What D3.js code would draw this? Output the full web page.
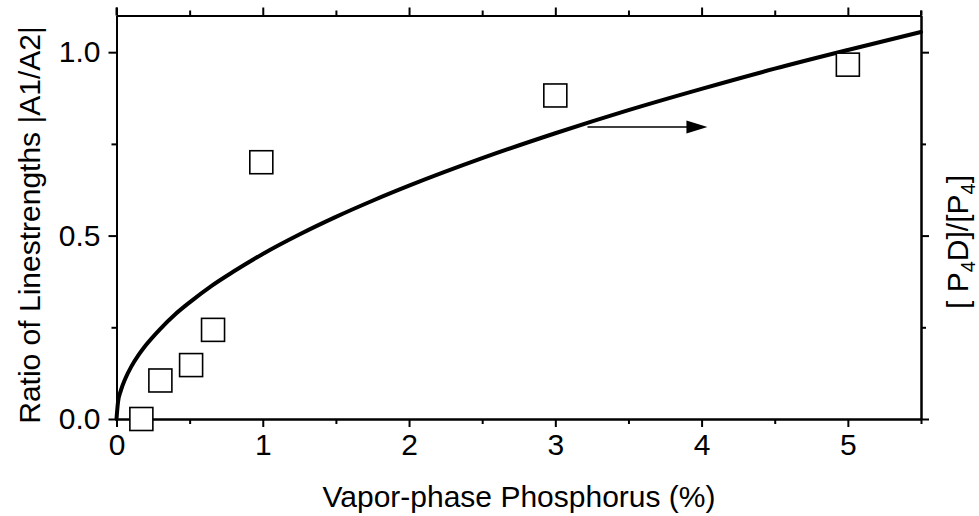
<!DOCTYPE html>
<html>
<head>
<meta charset="utf-8">
<script src="https://cdn.jsdelivr.net/npm/d3@7/dist/d3.min.js"></script>
<style>
  html, body { margin: 0; padding: 0; background: #fff; }
  svg { display: block; }
  text { font-family: "Liberation Sans", Arial, sans-serif; fill: #000; }
</style>
</head>
<body>
<svg id="chart" width="979" height="516"></svg>
<script>
// ---- data ----
const curveX = [0, 0.01, 0.03, 0.06, 0.1, 0.15, 0.2, 0.3, 0.4, 0.5, 0.65, 0.8, 1.0, 1.25, 1.5, 1.75, 2.0, 2.5, 3.0, 3.5, 4.0, 4.5, 5.0, 5.5];
const curveY = [0, 0.045, 0.078, 0.11, 0.142, 0.174, 0.201, 0.246, 0.285, 0.318, 0.363, 0.402, 0.45, 0.503, 0.551, 0.595, 0.636, 0.711, 0.779, 0.842, 0.9, 0.955, 1.006, 1.055];
const pointsX = [0.17, 0.30, 0.51, 0.66, 0.99, 3.0, 5.0];
const pointsY = [0.0, 0.105, 0.147, 0.243, 0.70, 0.882, 0.966];
const arrowX = [3.22, 4.04];
const arrowY = 0.796;
const xMajorTicks = [0, 1, 2, 3, 4, 5];
const xMinorTicks = [0.5, 1.5, 2.5, 3.5, 4.5, 5.5];
const yMajorTicks = [0.0, 0.5, 1.0];
const yMinorTicks = [0.25, 0.75];
const xTickLabels = ["0", "1", "2", "3", "4", "5"];
const yTickLabels = ["0.0", "0.5", "1.0"];
const xTitle = "Vapor-phase Phosphorus (%)";
const yTitle = "Ratio of Linestrengths |A1/A2|";

// ---- layout ----
const L = 116.5, R = 921, T = 15.5, B = 419;
const FS = 30;
const svg = d3.select("#chart");
const x = d3.scaleLinear().domain([0, 5.5]).range([L, R]);
const y = d3.scaleLinear().domain([0, 1.1]).range([B, T]);

function styleAxis(g) {
  g.selectAll(".domain").attr("stroke", "#000").attr("stroke-width", 2);
  g.selectAll(".tick line").attr("stroke", "#000").attr("stroke-width", 2);
  g.selectAll("text").attr("font-size", FS).attr("fill", "#000")
    .attr("font-family", '"Liberation Sans", Arial, sans-serif');
}

// minor ticks (drawn first)
const minorLen = 5, majorLen = 8;
svg.append("g").attr("transform", `translate(0,${B})`)
  .call(d3.axisBottom(x).tickValues(xMinorTicks).tickSize(minorLen).tickFormat("").tickSizeOuter(0))
  .call(styleAxis);
svg.append("g").attr("transform", `translate(0,${T})`)
  .call(d3.axisTop(x).tickValues(xMinorTicks).tickSize(minorLen).tickFormat("").tickSizeOuter(0))
  .call(styleAxis);
svg.append("g").attr("transform", `translate(${L},0)`)
  .call(d3.axisLeft(y).tickValues(yMinorTicks).tickSize(minorLen).tickFormat("").tickSizeOuter(0))
  .call(styleAxis);
svg.append("g").attr("transform", `translate(${R},0)`)
  .call(d3.axisRight(y).tickValues(yMinorTicks).tickSize(minorLen).tickFormat("").tickSizeOuter(0))
  .call(styleAxis);

// major ticks
svg.append("g").attr("transform", `translate(0,${B})`)
  .call(d3.axisBottom(x).tickValues(xMajorTicks).tickSize(majorLen).tickPadding(7)
    .tickFormat((d, i) => xTickLabels[i]).tickSizeOuter(0))
  .call(styleAxis);
svg.append("g").attr("transform", `translate(0,${T})`)
  .call(d3.axisTop(x).tickValues(xMajorTicks).tickSize(majorLen).tickFormat("").tickSizeOuter(0))
  .call(styleAxis);
svg.append("g").attr("transform", `translate(${L},0)`)
  .call(d3.axisLeft(y).tickValues(yMajorTicks).tickSize(majorLen).tickPadding(8)
    .tickFormat((d, i) => yTickLabels[i]).tickSizeOuter(0))
  .call(styleAxis);
svg.append("g").attr("transform", `translate(${R},0)`)
  .call(d3.axisRight(y).tickValues(yMajorTicks).tickSize(majorLen).tickFormat("").tickSizeOuter(0))
  .call(styleAxis);

// corner extensions (axis lines slightly past corners)
svg.append("line").attr("x1", L).attr("x2", L).attr("y1", T - 8).attr("y2", T).attr("stroke", "#000").attr("stroke-width", 2);
svg.append("line").attr("x1", R).attr("x2", R).attr("y1", T - 5).attr("y2", T).attr("stroke", "#000").attr("stroke-width", 2);

// curve
const curveData = curveX.map((d, i) => [d, curveY[i]]);
const line = d3.line().x(d => x(d[0])).y(d => y(d[1])).curve(d3.curveMonotoneX);
svg.append("path").datum(curveData).attr("d", line)
  .attr("fill", "none").attr("stroke", "#000").attr("stroke-width", 4)
  .attr("stroke-linejoin", "round").attr("stroke-linecap", "round");

// arrow
const ax1 = x(arrowX[0]), ax2 = x(arrowX[1]), ay = y(arrowY);
svg.append("line").attr("x1", ax1).attr("x2", ax2 - 18).attr("y1", ay).attr("y2", ay)
  .attr("stroke", "#000").attr("stroke-width", 1.6);
svg.append("path")
  .attr("d", `M${ax2},${ay} L${ax2 - 21},${ay - 6.5} L${ax2 - 21},${ay + 6.5} Z`)
  .attr("fill", "#000");

// squares
const S = 23;
svg.append("g").selectAll("rect")
  .data(pointsX.map((d, i) => [d, pointsY[i]]))
  .join("rect")
  .attr("x", d => x(d[0]) - S / 2)
  .attr("y", d => y(d[1]) - S / 2)
  .attr("width", S).attr("height", S)
  .attr("fill", "#fff").attr("stroke", "#000").attr("stroke-width", 1.6);

// titles
svg.append("text").attr("x", 519).attr("y", 507)
  .attr("text-anchor", "middle").attr("font-size", FS).text(xTitle);

svg.append("text")
  .attr("transform", `translate(40,225) rotate(-90)`)
  .attr("text-anchor", "middle").attr("font-size", FS).text(yTitle);

const rt = svg.append("text")
  .attr("transform", `translate(968,242) rotate(-90)`)
  .attr("text-anchor", "middle").attr("font-size", FS);
rt.append("tspan").text("[ P");
rt.append("tspan").attr("font-size", 20).attr("dy", 7).text("4");
rt.append("tspan").attr("dy", -7).text("D]/[P");
rt.append("tspan").attr("font-size", 20).attr("dy", 7).text("4");
rt.append("tspan").attr("dy", -7).text("]");
</script>
</body>
</html>
